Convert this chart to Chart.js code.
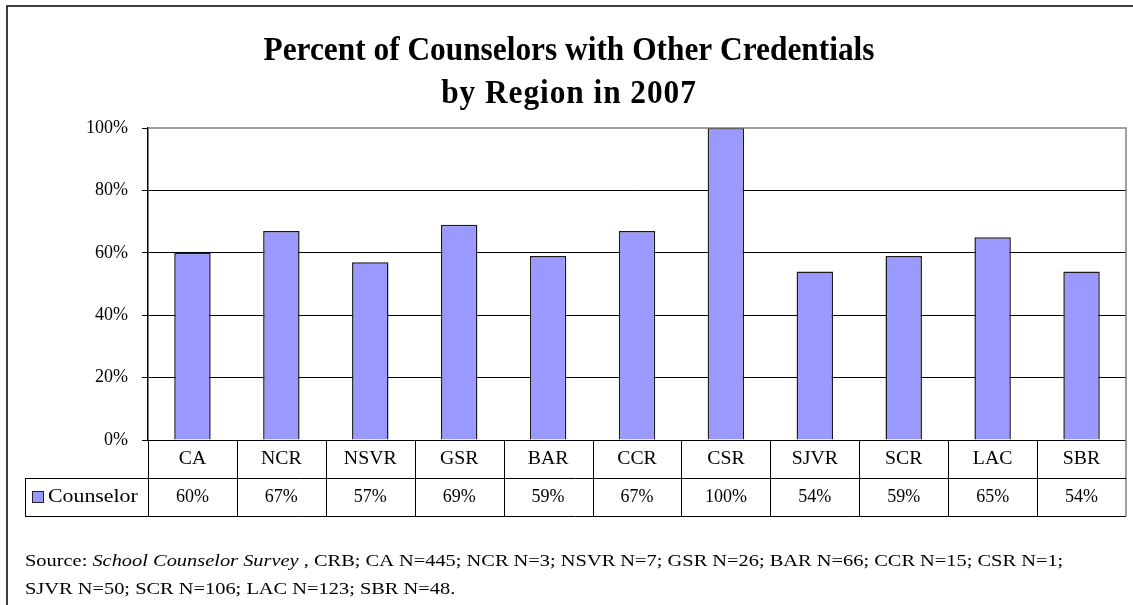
<!DOCTYPE html>
<html>
<head>
<meta charset="utf-8">
<title>Counselors with Other Credentials</title>
<script src="https://cdn.jsdelivr.net/npm/chart.js@4/dist/chart.umd.min.js"></script>
<style>
  html, body { margin: 0; padding: 0; background: #fff; }
  canvas { display: block; }
</style>
</head>
<body>
<canvas id="myChart" width="1133" height="605"></canvas>
<script>
// regions in the survey, in table order
const regions = ['CA', 'NCR', 'NSVR', 'GSR', 'BAR', 'CCR', 'CSR', 'SJVR', 'SCR', 'LAC', 'SBR'];
// percent of counselors holding other credentials
const counselorPct = [60, 67, 57, 69, 59, 67, 100, 54, 59, 65, 54];
// y axis tick labels
const yTicks = [0, 20, 40, 60, 80, 100];

const titleLines = ['Percent of Counselors with Other Credentials', 'by Region in 2007'];
const seriesName = 'Counselor';
const barFill = '#9999ff';
const serif = "'Liberation Serif', 'Times New Roman', serif";

// draws text stretched (or squeezed) sideways; returns the drawn width
function wide(ctx, text, x, y, sx, spacing) {
  ctx.save();
  ctx.translate(x, y);
  ctx.scale(sx, 1);
  ctx.letterSpacing = (spacing || 0) + 'px';
  ctx.fillText(text, 0, 0);
  const w = ctx.measureText(text).width * sx;
  ctx.restore();
  return w;
}

// title, data table under the bars, source note and frame
const extras = {
  id: 'extras',
  afterDraw(chart) {
    const ctx = chart.ctx;
    const area = chart.chartArea;
    const x = chart.scales.x;
    const left = area.left, right = area.right, bottom = area.bottom;
    const row1 = bottom + 38, row2 = bottom + 76;
    const legendLeft = 25;

    ctx.save();

    // outer frame
    ctx.strokeStyle = '#000';
    ctx.lineWidth = 1.5;
    ctx.beginPath();
    ctx.moveTo(7, 605);
    ctx.lineTo(7, 6);
    ctx.lineTo(1133, 6);
    ctx.stroke();

    // title, a touch condensed
    ctx.fillStyle = '#000';
    ctx.textAlign = 'center';
    ctx.textBaseline = 'middle';
    ctx.font = 'bold 33px ' + serif;
    wide(ctx, titleLines[0], 569, 51, 0.95);
    wide(ctx, titleLines[1], 569, 94, 0.95, 1);

    // plot border top/right
    ctx.strokeStyle = '#808080';
    ctx.lineWidth = 1.5;
    ctx.beginPath();
    ctx.moveTo(left, area.top);
    ctx.lineTo(right, area.top);
    ctx.lineTo(right, row2);
    ctx.stroke();

    // table grid
    ctx.strokeStyle = '#000';
    ctx.lineWidth = 1;
    ctx.beginPath();
    ctx.moveTo(legendLeft, row1 + 0.5);
    ctx.lineTo(right, row1 + 0.5);
    ctx.moveTo(legendLeft, row2 + 0.5);
    ctx.lineTo(right, row2 + 0.5);
    ctx.moveTo(legendLeft + 0.5, row1);
    ctx.lineTo(legendLeft + 0.5, row2);
    const step = (right - left) / regions.length;
    for (let i = 0; i < regions.length; i++) {
      const bx = Math.round(x.getPixelForValue(i) - step / 2) + 0.5;
      ctx.moveTo(bx, bottom);
      ctx.lineTo(bx, row2);
    }
    ctx.stroke();

    // category and value cells
    ctx.textAlign = 'center';
    regions.forEach((r, i) => {
      const cx = x.getPixelForValue(i);
      ctx.font = '18px ' + serif;
      wide(ctx, r, cx, bottom + 19, 1.1);
      ctx.fillText(counselorPct[i] + '%', cx, row1 + 19);
    });

    // legend key
    ctx.fillStyle = barFill;
    ctx.fillRect(32, row1 + 13, 11, 11);
    ctx.strokeStyle = '#222';
    ctx.strokeRect(32.5, row1 + 13.5, 11, 11);
    ctx.fillStyle = '#000';
    ctx.textAlign = 'left';
    ctx.font = '19px ' + serif;
    wide(ctx, seriesName, 48, row1 + 19, 1.15);

    // source note
    let sx = 25;
    const parts = [
      ['Source: ', ''],
      ['School Counselor Survey', 'italic '],
      [' , CRB; CA N=445; NCR N=3; NSVR N=7; GSR N=26; BAR N=66; CCR N=15; CSR N=1;', '']
    ];
    parts.forEach(p => {
      ctx.font = p[1] + '17px ' + serif;
      sx += wide(ctx, p[0], sx, 562, 1.2);
    });
    ctx.font = '17px ' + serif;
    wide(ctx, 'SJVR N=50; SCR N=106; LAC N=123; SBR N=48.', 25, 590, 1.2);

    ctx.restore();
  }
};

new Chart(document.getElementById('myChart'), {
  type: 'bar',
  data: {
    labels: regions,
    datasets: [{
      label: seriesName,
      data: counselorPct,
      backgroundColor: barFill,
      borderColor: '#1a1a1a',
      borderWidth: 1.5,
      barPercentage: 0.41,
      categoryPercentage: 1
    }]
  },
  options: {
    responsive: false,
    animation: false,
    layout: { padding: { left: 0, top: 128, right: 7, bottom: 165 } },
    plugins: {
      legend: { display: false },
      tooltip: { enabled: false }
    },
    scales: {
      x: {
        display: false
      },
      y: {
        min: 0,
        max: 100,
        afterFit(scale) { scale.width = 148; },
        afterBuildTicks(scale) { scale.ticks = yTicks.map(v => ({ value: v })); },
        border: { color: '#000', width: 1.5 },
        grid: {
          color: ctx => ctx.tick && ctx.tick.value === 100 ? 'rgba(0,0,0,0)' : '#000',
          tickColor: '#000',
          tickLength: 6,
          lineWidth: 1
        },
        ticks: {
          padding: 14,
          color: '#000',
          font: { family: serif, size: 18 },
          callback: v => v + '%'
        }
      }
    }
  },
  plugins: [extras]
});
</script>
</body>
</html>
